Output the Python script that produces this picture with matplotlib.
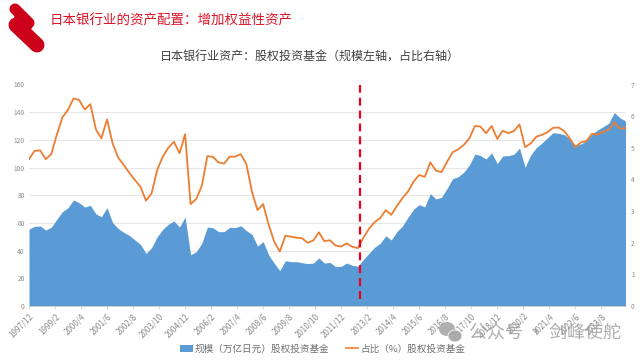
import pandas as pd
import matplotlib
matplotlib.use("Agg")
import matplotlib.pyplot as plt
from matplotlib.patches import Ellipse, Patch
from matplotlib.lines import Line2D

plt.rcParams['font.family'] = ['Noto Sans CJK SC', 'DejaVu Sans']

# --- data (quarterly, 1997/12 onwards) ---
START_DATE = "1997-12-01"
MARKER_DATE = "2012-10-01"

scale = [
    55.6, 57.5, 57.8, 54.9, 56.8, 62.6, 68.1, 71.0, 76.6, 74.6,
    71.5, 72.7, 66.5, 64.5, 71.0, 60.2, 55.9, 53.2, 51.0, 47.7,
    44.5, 38.0, 42.1, 50.0, 55.4, 59.0, 61.4, 57.0, 64.3, 37.0,
    39.2, 45.3, 57.0, 56.6, 53.7, 53.7, 56.8, 56.6, 58.0, 54.4,
    51.8, 43.3, 46.5, 36.8, 30.8, 25.5, 32.7, 32.0, 32.0, 31.3,
    30.6, 31.0, 34.7, 31.0, 31.5, 28.4, 28.7, 31.0, 29.4, 28.7,
    33.7, 38.0, 42.4, 45.3, 50.7, 47.7, 53.7, 57.8, 64.2, 69.8,
    73.2, 71.6, 81.2, 77.3, 78.5, 85.0, 92.0, 93.4, 96.6, 101.9,
    109.8, 108.7, 106.2, 110.7, 102.8, 108.4, 108.6, 109.6, 114.1, 100.2,
    109.0, 114.4, 117.7, 121.4, 125.2, 124.7, 123.8, 120.6, 116.3, 117.0,
    119.4, 124.2, 127.1, 129.5, 132.0, 139.7, 136.0, 133.6,
]

share = [
    4.64, 4.90, 4.92, 4.64, 4.80, 5.41, 5.96, 6.20, 6.56, 6.51,
    6.21, 6.38, 5.58, 5.30, 5.90, 5.14, 4.69, 4.46, 4.21, 3.98,
    3.77, 3.33, 3.56, 4.30, 4.72, 5.00, 5.19, 4.83, 5.43, 3.22,
    3.38, 3.80, 4.74, 4.71, 4.54, 4.50, 4.72, 4.72, 4.80, 4.48,
    3.61, 3.03, 3.22, 2.56, 2.03, 1.72, 2.22, 2.19, 2.16, 2.14,
    2.00, 2.07, 2.33, 2.05, 2.08, 1.91, 1.88, 1.98, 1.87, 1.83,
    2.16, 2.44, 2.65, 2.78, 3.03, 2.88, 3.16, 3.41, 3.62, 3.93,
    4.14, 4.08, 4.54, 4.28, 4.23, 4.56, 4.86, 4.95, 5.09, 5.30,
    5.69, 5.67, 5.46, 5.69, 5.28, 5.54, 5.46, 5.53, 5.74, 5.02,
    5.14, 5.35, 5.41, 5.49, 5.63, 5.64, 5.53, 5.30, 5.02, 5.17,
    5.21, 5.44, 5.42, 5.50, 5.58, 5.80, 5.61, 5.62,
]

tick_labels = [
    "1997/12", "1999/2", "2000/4", "2001/6", "2002/8", "2003/10", "2004/12",
    "2006/2", "2007/4", "2008/6", "2009/8", "2010/10", "2011/12", "2013/2",
    "2014/4", "2015/6", "2016/8", "2017/10", "2018/12", "2020/2", "2021/4",
    "2022/6", "2023/8",
]
left_ticks = [0, 20, 40, 60, 80, 100, 120, 140, 160]
right_ticks = [0, 1, 2, 3, 4, 5, 6, 7]

PAGE_TITLE = "日本银行业的资产配置：增加权益性资产"
CHART_TITLE = "日本银行业资产：股权投资基金（规模左轴，占比右轴）"
SCALE_LABEL = "规模（万亿日元）股权投资基金"
SHARE_LABEL = "占比（%）股权投资基金"

BLUE = "#5B9BD5"
ORANGE = "#ED7D31"
GRID = "#E6E6E6"
TICK_TEXT = "#8C8C8C"
LOGO_RED = "#CC0018"

W, H = 640, 360


def px_rect(left, top, right, bottom):
    return [left / W, 1 - bottom / H, (right - left) / W, (bottom - top) / H]


dates = pd.date_range(START_DATE, periods=len(scale), freq="3MS")
tick_dates = pd.to_datetime(tick_labels, format="%Y/%m")

fig = plt.figure(figsize=(6.4, 3.6), dpi=100, facecolor="white")

ax = fig.add_axes(px_rect(29, 84.5, 625.5, 306))
ax.fill_between(dates, scale, 0, color=BLUE, linewidth=0, zorder=2)
ax.set_xlim(dates[0], dates[-1])
ax.set_ylim(0, 160)
ax.set_yticks(left_ticks)
ax.set_xticks(tick_dates)
ax.set_xticklabels(tick_labels, rotation=45, ha="right", rotation_mode="anchor")
ax.grid(True, axis="y", color=GRID, linewidth=0.8, zorder=0)
ax.set_axisbelow(True)
ax.tick_params(axis="y", length=0, labelsize=4.8, labelcolor=TICK_TEXT, pad=3)
ax.tick_params(axis="x", length=2, width=0.5, color="#C8C8C8",
               labelsize=5.8, labelcolor=TICK_TEXT, pad=2)
for side in ["top", "left", "right"]:
    ax.spines[side].set_visible(False)
ax.spines["bottom"].set_color("#D0D0D0")
ax.spines["bottom"].set_linewidth(0.6)

ax2 = ax.twinx()
ax2.plot(dates, share, color=ORANGE, linewidth=1.3, zorder=3)
ax2.set_ylim(0, 7)
ax2.set_yticks(right_ticks)
ax2.tick_params(axis="y", length=0, labelsize=4.8, labelcolor=TICK_TEXT, pad=4)
for side in ["top", "left", "right", "bottom"]:
    ax2.spines[side].set_visible(False)

ax2.axvline(pd.Timestamp(MARKER_DATE), ymin=0.03, ymax=1, color="#F00020",
            linewidth=1.6, linestyle=(0, (3.6, 2.2)), zorder=4)

fig.text(50 / W, 1 - 21 / H, PAGE_TITLE, color="#DC1428", fontsize=9.7,
         va="center", ha="left")
fig.text(309.5 / W, 1 - 57 / H, CHART_TITLE, color="#404040", fontsize=8.67,
         va="center", ha="center")

# legend
handles = [Patch(facecolor=BLUE, edgecolor="none"),
           Line2D([0], [0], color=ORANGE, linewidth=1.2)]
fig.legend(handles, [SCALE_LABEL, SHARE_LABEL], loc="center",
           bbox_to_anchor=(323 / W, 1 - 349 / H), ncol=2, frameon=False,
           fontsize=6.9, labelcolor="#707070", handlelength=1.3,
           handletextpad=0.25, columnspacing=1.7, borderpad=0)

# overlay in pixel coordinates: logo and watermark
over = fig.add_axes([0, 0, 1, 1], zorder=10)
over.set_xlim(0, W)
over.set_ylim(H, 0)
over.axis("off")
over.patch.set_alpha(0)

over.plot([15, 29], [9, 23], color=LOGO_RED, linewidth=8, solid_capstyle="round")
over.plot([16, 37], [25, 45], color=LOGO_RED, linewidth=10.8, solid_capstyle="round")
over.add_patch(Ellipse((23, 22.5), 21, 7, angle=35, facecolor="#A00010", edgecolor="none"))

over.add_patch(Ellipse((447, 329), 16, 14, facecolor="#A8A8A8", edgecolor="none", alpha=0.9))
over.add_patch(Ellipse((455, 336), 14, 12, facecolor="#A8A8A8", edgecolor="white",
                       linewidth=0.6, alpha=0.95))
over.text(469, 333, "公众号 · 剑峰使舵", color="#9A9A9A", alpha=0.8, fontsize=13,
          va="center", ha="left")

fig.savefig("out.png", dpi=100)
plt.close(fig)
